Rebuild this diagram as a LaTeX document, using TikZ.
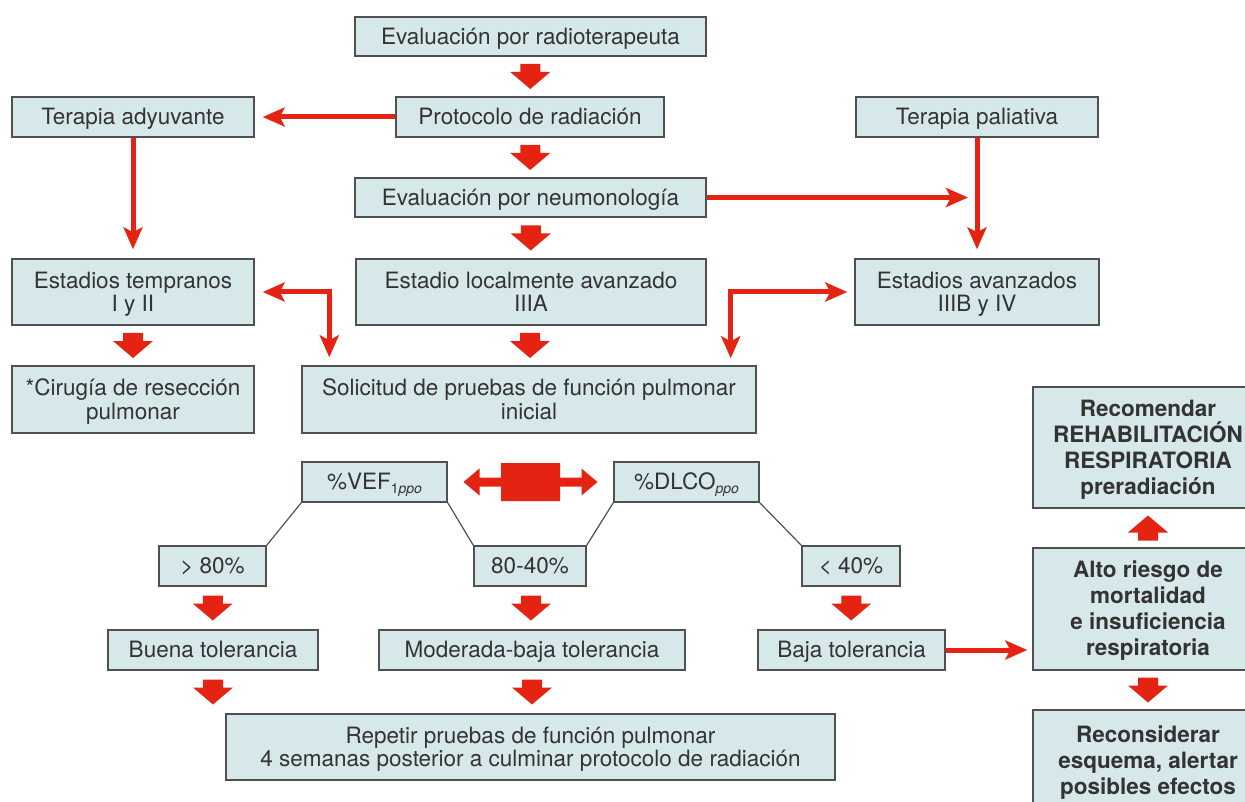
\documentclass[tikz,border=0pt]{standalone}
\usepackage{fontspec}
\setmainfont{TeX Gyre Heros}
\usetikzlibrary{arrows.meta,calc}
\definecolor{boxfill}{HTML}{D7E8EA}
\definecolor{boxline}{HTML}{505050}
\definecolor{arrred}{HTML}{E42313}
\definecolor{txt}{HTML}{333333}
\tikzset{
  rtip/.tip={Stealth[length=22pt,width=19pt,inset=5pt]},
  box/.style={draw=boxline, line width=1.4pt, fill=boxfill, text=txt,
    font=\fontsize{22.5}{23.5}\selectfont, align=center, inner sep=0pt,
    text height=15.8pt, text depth=0pt},
  twol/.style={text height=39.3pt, text depth=0pt},
  bbox/.style={box, font=\fontsize{22.5}{26}\selectfont\bfseries},
  threel/.style={text height=67.8pt, text depth=0pt},
  fourl/.style={text height=93.8pt, text depth=0pt},
  thinarr/.style={draw=arrred, line width=5pt, -rtip},
  thinarrtwo/.style={draw=arrred, line width=5pt, rtip-rtip},
  link/.style={draw=boxline, line width=1.2pt},
  pics/bdown/.style={code={
    \fill[arrred] (-10,-12.5) -- (10,-12.5) -- (10,-4.5) -- (20,-4.5) -- (0,12.5)
      -- (-20,-4.5) -- (-10,-4.5) -- cycle;}},
  pics/bdouble/.style={code={
    \fill[arrred] (-67,0) -- (-51,-13.5) -- (-51,-4.5) -- (-29.5,-4.5) -- (-29.5,-19)
      -- (29.5,-19) -- (29.5,-4.5) -- (51,-4.5) -- (51,-13.5) -- (67,0)
      -- (51,13.5) -- (51,4.5) -- (29.5,4.5) -- (29.5,19) -- (-29.5,19)
      -- (-29.5,4.5) -- (-51,4.5) -- (-51,13.5) -- cycle;}}
}
\begin{document}
\begin{tikzpicture}[x=1pt,y=-1pt]
\useasboundingbox (0,0) rectangle (1245,802);
\clip (0,0) rectangle (1245,802);

% boxes
\node[box, minimum width=351pt, minimum height=39pt] (rad) at (530.5,36.5) {Evaluación por radioterapeuta};
\node[box, minimum width=268pt, minimum height=40pt] (prot) at (530,117) {Protocolo de radiación};
\node[box, minimum width=242pt, minimum height=40pt] (ady) at (133,117) {Terapia adyuvante};
\node[box, minimum width=242pt, minimum height=40pt] (pal) at (977,117) {Terapia paliativa};
\node[box, minimum width=351pt, minimum height=39pt] (neu) at (530.5,197.5) {Evaluación por neumonología};
\node[box, twol, minimum width=242pt, minimum height=66pt] (temp) at (133,292) {Estadios tempranos\\I y II};
\node[box, twol, minimum width=350pt, minimum height=66pt] (loc) at (531,292) {Estadio localmente avanzado\\IIIA};
\node[box, twol, minimum width=244pt, minimum height=66pt] (avz) at (977,292) {Estadios avanzados\\IIIB y IV};
\node[box, twol, minimum width=242pt, minimum height=67pt] (cir) at (133,399.5) {*Cirugía de resección\\pulmonar};
\node[box, twol, minimum width=454pt, minimum height=67pt] (sol) at (529,399.5) {Solicitud de pruebas de función pulmonar\\inicial};
\node[box, minimum width=145pt, minimum height=40pt] (vef) at (374.5,482) {\%VEF{\fontsize{14}{14}\selectfont\raisebox{-4pt}{1\textit{ppo}}}};
\node[box, minimum width=145pt, minimum height=40pt] (dlco) at (686.5,482) {\%DLCO{\fontsize{14}{14}\selectfont\raisebox{-4pt}{\textit{ppo}}}};
\node[box, minimum width=107pt, minimum height=40pt] (g80) at (212.5,566) {> 80\%};
\node[box, minimum width=112pt, minimum height=40pt] (mid) at (530,566) {80-40\%};
\node[box, minimum width=98pt, minimum height=40pt] (l40) at (851,566) {< 40\%};
\node[box, minimum width=210pt, minimum height=40pt] (buena) at (213,650) {Buena tolerancia};
\node[box, minimum width=306pt, minimum height=40pt] (mod) at (532,650) {Moderada-baja tolerancia};
\node[box, minimum width=187pt, minimum height=40pt] (baja) at (851.5,650) {Baja tolerancia};
\node[box, twol, minimum width=609pt, minimum height=66pt] (rep) at (530.5,747) {Repetir pruebas de función pulmonar\\4 semanas posterior a culminar protocolo de radiación};
\node[bbox, fourl, minimum width=230pt, minimum height=121pt] (rec) at (1148,447.5) {Recomendar\\REHABILITACIÓN\\RESPIRATORIA\\preradiación};
\node[bbox, fourl, minimum width=230pt, minimum height=122pt] (alto) at (1148,609) {Alto riesgo de\\mortalidad\\e insuficiencia\\respiratoria};
\node[bbox, threel, minimum width=230pt, minimum height=102pt] (recons) at (1148,761) {Reconsiderar\\esquema, alertar\\posibles efectos};

% block arrows
\pic at ($(rad.south)!0.5!(prot.north)$) {bdown};
\pic at ($(prot.south)!0.5!(neu.north)$) {bdown};
\pic at ($(neu.south)!0.5!(loc.north)$) {bdown};
\pic at ($(loc.south)!0.5!(sol.north)$) {bdown};
\pic at ($(temp.south)!0.5!(cir.north)$) {bdown};
\pic at ($(g80.south)!0.5!(buena.north)$) {bdown};
\pic at ($(mid.south)!0.5!(mod.north)$) {bdown};
\pic at ($(l40.south)!0.5!(baja.north)$) {bdown};
\pic at ($(buena.south)!0.5!(buena.south |- rep.north)$) {bdown};
\pic at ($(mod.south)!0.5!(mod.south |- rep.north)$) {bdown};
\pic at ($(alto.south)!0.5!(recons.north)$) {bdown};
\pic[rotate=180] at ($(rec.south)!0.5!(alto.north)$) {bdown};
\pic at ($(vef.east)!0.5!(dlco.west)$) {bdouble};

% thin red arrows
\draw[thinarr, shorten >=8pt] (prot.west) -- (ady.east);
\draw[thinarr, shorten >=9pt] (ady.south) -- (temp.north);
\draw[thinarr, shorten >=9pt] (pal.south) -- (avz.north);
\draw[thinarr, shorten >=9pt] (neu.east) -- (neu.east -| pal.south);
\coordinate (k1) at ($(sol.north west)+(28,0)$);
\coordinate (k2) at ($(sol.north east)+(-26,0)$);
\draw[thinarrtwo, shorten <=8pt, shorten >=8pt] (temp.east) -- (k1 |- temp.east) -- (k1);
\draw[thinarrtwo, shorten <=7pt, shorten >=7pt] (avz.west) -- (k2 |- avz.west) -- (k2);
\draw[thinarr, shorten >=5pt] (baja.east) -- (baja.east -| alto.west);

% thin grey links
\draw[link] (vef.south west) -- (g80.north east);
\draw[link] (vef.south east) -- (mid.north west);
\draw[link] (dlco.south west) -- (mid.north east);
\draw[link] (dlco.south east) -- (l40.north west);
\end{tikzpicture}
\end{document}
